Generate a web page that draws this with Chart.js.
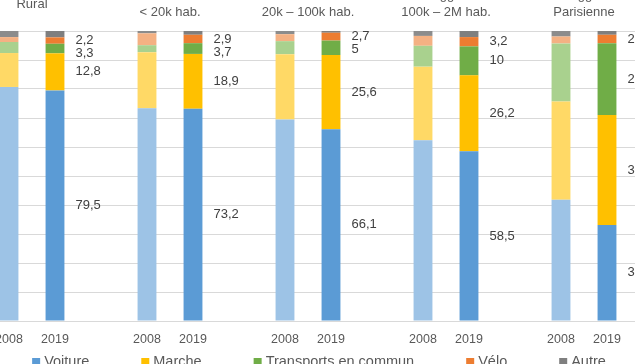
<!DOCTYPE html>
<html>
<head>
<meta charset="utf-8">
<script src="https://cdn.jsdelivr.net/npm/chart.js@4.4.0/dist/chart.umd.min.js"></script>
<style>
    body { margin: 0; overflow: hidden; background: #fff; }
    #wrap { position: absolute; left: -60px; top: -30px; width: 755px; height: 421px; }
</style>
</head>
<body>
<div id="wrap"><canvas id="modesChart" width="755" height="421"></canvas></div>
<script>
// Zones (group titles) and years
var zones = ['Rural', 'UU\n< 20k hab.', 'UU\n20k \u2013 100k hab.', 'Aggl.\n100k \u2013 2M hab.', 'Aggl.\nParisienne'];
var years = ['2008', '2019'];
var modes = ['Voiture', 'Marche', 'Transports en commun', 'V\u00e9lo', 'Autre'];

// Share of each mode (%) per zone, 2008 then 2019
var voiture2008 = [80.7, 73.4, 69.5, 62.3, 41.8];
var voiture2019 = [79.5, 73.2, 66.1, 58.5, 33.1];
var marche2008 = [11.7, 19.3, 22.5, 25.4, 33.9];
var marche2019 = [12.8, 18.9, 25.6, 26.2, 37.9];
var tc2008 = [3.8, 2.4, 4.5, 7.2, 20.0];
var tc2019 = [3.3, 3.7, 5.0, 10.0, 24.8];
var velo2008 = [1.7, 4.1, 2.4, 3.4, 2.4];
var velo2019 = [2.2, 2.9, 2.7, 3.2, 2.9];
var autre2008 = [2.1, 0.8, 1.1, 1.7, 1.9];
var autre2019 = [2.2, 1.3, 0.6, 2.1, 1.3];

// Colours: light for 2008, dark for 2019
var colors2008 = ['#9DC3E6', '#FFD966', '#A9D18E', '#F4B183', '#8C8C8C'];
var colors2019 = ['#5B9BD5', '#FFC000', '#70AD47', '#ED7D31', '#7F7F7F'];

// Build the category list: 2008, 2019, blank spacer for each zone
var labels = [];
zones.forEach(function () {
    labels.push(years[0], years[1], '');
});

// Build one dataset per mode
function buildSeries(a2008, a2019) {
    var out = [];
    for (var i = 0; i < zones.length; i++) {
        out.push(a2008[i], a2019[i], null);
    }
    return out;
}
function buildColors(m) {
    var out = [];
    for (var i = 0; i < zones.length; i++) {
        out.push(colors2008[m], colors2019[m], colors2019[m]);
    }
    return out;
}
var seriesList = [
    [voiture2008, voiture2019],
    [marche2008, marche2019],
    [tc2008, tc2019],
    [velo2008, velo2019],
    [autre2008, autre2019]
];
var datasets = seriesList.map(function (s, m) {
    return {
        label: modes[m],
        data: buildSeries(s[0], s[1]),
        backgroundColor: buildColors(m),
        borderWidth: 0,
        categoryPercentage: 1,
        barPercentage: 0.41
    };
});

function fmt(v) {
    return String(v).replace('.', ',');
}

// Plugin: zone titles on top, value labels next to 2019 bars, legend at the bottom
var extrasPlugin = {
    id: 'extras',
    afterDraw: function (chart) {
        var ctx = chart.ctx;
        var x = chart.scales.x;
        ctx.save();

        // Zone titles, centred between the two bars
        ctx.fillStyle = '#595959';
        ctx.font = '13px "Liberation Sans", Arial, sans-serif';
        ctx.textAlign = 'center';
        ctx.textBaseline = 'middle';
        zones.forEach(function (z, g) {
            var cx = (x.getPixelForValue(g * 3) + x.getPixelForValue(g * 3 + 1)) / 2;
            var lines = z.split('\n');
            var lh = 17;
            var cy = 34 - (lines.length - 1) * lh / 2;
            lines.forEach(function (line, k) {
                ctx.fillText(line, cx, cy + k * lh);
            });
        });

        // Value labels for the 2019 bars (all modes except Autre)
        ctx.fillStyle = '#404040';
        ctx.textAlign = 'left';
        for (var g = 0; g < zones.length; g++) {
            var idx = g * 3 + 1;
            var prev = -100;
            for (var m = 3; m >= 0; m--) {
                var bar = chart.getDatasetMeta(m).data[idx];
                var mid = (bar.y + bar.base) / 2;
                var ty = Math.max(mid, prev + 13);
                prev = ty;
                ctx.fillText(fmt(chart.data.datasets[m].data[idx]), bar.x + bar.width / 2 + 11, ty);
            }
        }

        // Legend
        ctx.font = '14.5px "Liberation Sans", Arial, sans-serif';
        var gap = 52, box = 8, total = 0, widths = [];
        modes.forEach(function (t) {
            var w = box + 4 + ctx.measureText(t).width;
            widths.push(w);
            total += w;
        });
        total += gap * (modes.length - 1);
        var lx = 379 - total / 2;
        var ly = 392;
        modes.forEach(function (t, m) {
            ctx.fillStyle = colors2019[m];
            ctx.fillRect(lx, ly - box / 2, box, box);
            ctx.fillStyle = '#595959';
            ctx.fillText(t, lx + box + 4, ly);
            lx += widths[m] + gap;
        });
        ctx.restore();
    }
};

var ctx = document.getElementById('modesChart').getContext('2d');
var modesChart = new Chart(ctx, {
    type: 'bar',
    data: { labels: labels, datasets: datasets },
    options: {
        responsive: false,
        animation: false,
        devicePixelRatio: 1,
        layout: { padding: { left: 46, right: 19, top: 61, bottom: 30 } },
        plugins: { legend: { display: false }, tooltip: { enabled: false } },
        scales: {
            x: {
                stacked: true,
                grid: { display: false },
                border: { display: false },
                ticks: {
                    color: '#595959',
                    padding: 3,
                    maxRotation: 0,
                    autoSkip: false,
                    font: { family: '"Liberation Sans", Arial, sans-serif', size: 12.5 }
                },
                afterFit: function (scale) { scale.height = 40; }
            },
            y: {
                stacked: true,
                min: 0,
                max: 100,
                ticks: { display: false, stepSize: 10 },
                grid: { color: '#D9D9D9', drawTicks: false },
                border: { display: false },
                afterFit: function (scale) { scale.width = 0; }
            }
        }
    },
    plugins: [extrasPlugin]
});
</script>
</body>
</html>
